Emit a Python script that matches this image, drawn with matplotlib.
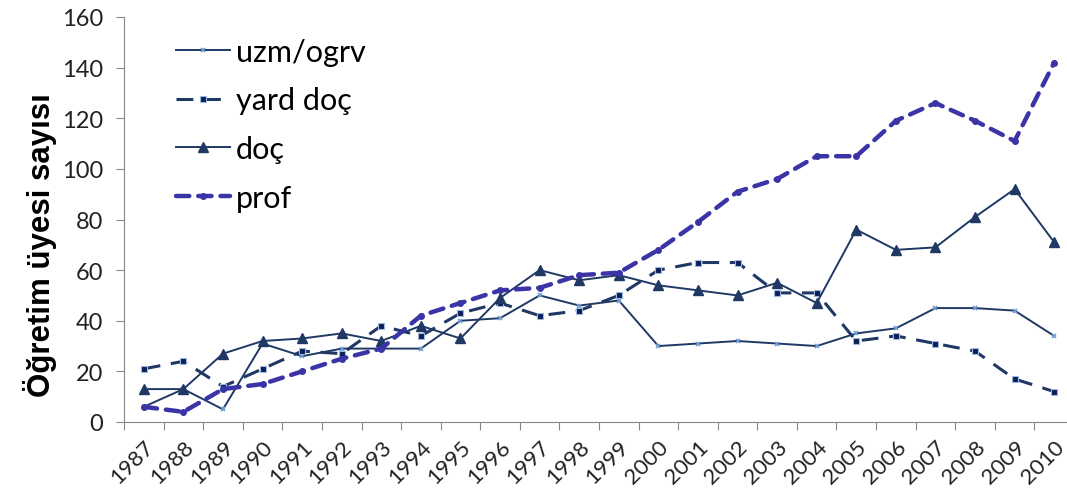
import matplotlib.pyplot as plt
import matplotlib.transforms as mtransforms

years = [str(y) for y in range(1987, 2011)]

uzm_ogrv = [6, 13, 5, 31, 26, 29, 29, 29, 40, 41, 50, 46, 48, 30, 31, 32, 31, 30, 35, 37, 45, 45, 44, 34]
yard_doc = [21, 24, 14, 21, 28, 27, 38, 34, 43, 47, 42, 44, 50, 60, 63, 63, 51, 51, 32, 34, 31, 28, 17, 12]
doc = [13, 13, 27, 32, 33, 35, 32, 38, 33, 49, 60, 56, 58, 54, 52, 50, 55, 47, 76, 68, 69, 81, 92, 71]
prof = [6, 4, 13, 15, 20, 25, 29, 42, 47, 52, 53, 58, 59, 68, 79, 91, 96, 105, 105, 119, 126, 119, 111, 142]

navy = '#1F3864'
purple = '#3A34A6'
plt.rcParams['font.family'] = ['Lato', 'DejaVu Sans']

fig = plt.figure(figsize=(10.67, 4.89), dpi=100)
ax = fig.add_axes([124 / 1067, 66 / 489, 950 / 1067, 405 / 489])

x = range(len(years))
ax.plot(x, uzm_ogrv, color=navy, lw=1.4, marker='x', ms=3, mec='#6E9BD0', mew=1.2,
        label='uzm/ogrv')
ax.plot(x, yard_doc, color=navy, lw=2.2, ls=(0, (5.5, 3.5)), marker='s', ms=4,
        mfc='#0A1E5A', mec='#9DB8DD', mew=0.8, label='yard doç')
ax.plot(x, doc, color=navy, lw=1.4, marker='^', ms=7, mfc=navy, mec=navy, label='doç')
ax.plot(x, prof, color=purple, lw=3.2, ls=(0, (3, 2)), dash_capstyle='round', marker='o', ms=4,
        mfc=purple, mec=purple, label='prof')

ax.set_xlim(-0.5, len(years) - 0.5)
ax.set_ylim(0, 160)
ax.set_yticks(range(0, 161, 20))
ax.set_xticks([i - 0.5 for i in range(len(years) + 1)])
ax.set_xticklabels([])
ax.set_xticks(list(x), minor=True)
ax.set_xticklabels(years, minor=True, rotation=45, ha='right', va='top', fontsize=16,
                   color='#222222', rotation_mode='anchor')
offset = mtransforms.ScaledTranslation(9 / 100, 0, fig.dpi_scale_trans)
for lab in ax.get_xticklabels(minor=True):
    lab.set_transform(lab.get_transform() + offset)
ax.tick_params(axis='x', which='minor', length=0, pad=10)
ax.tick_params(axis='x', which='major', length=6, color='#888888', direction='out')
ax.tick_params(axis='y', length=6, color='#888888', labelsize=17, labelcolor='#222222', pad=9)

for s in ['top', 'right']:
    ax.spines[s].set_visible(False)
ax.spines['left'].set_color('#888888')
ax.spines['bottom'].set_color('#888888')

ax.set_ylabel('Öğretim üyesi sayısı', fontsize=22.5, fontweight='bold',
              family=['Liberation Sans', 'DejaVu Sans'])
ax.yaxis.set_label_coords(-0.070, 0.44)

leg = ax.legend(loc='upper left', bbox_to_anchor=(0.026, 1.017), frameon=False, fontsize=22,
                handlelength=1.75, labelspacing=0.68, handletextpad=0.2)

fig.savefig('out.png', dpi=100)
